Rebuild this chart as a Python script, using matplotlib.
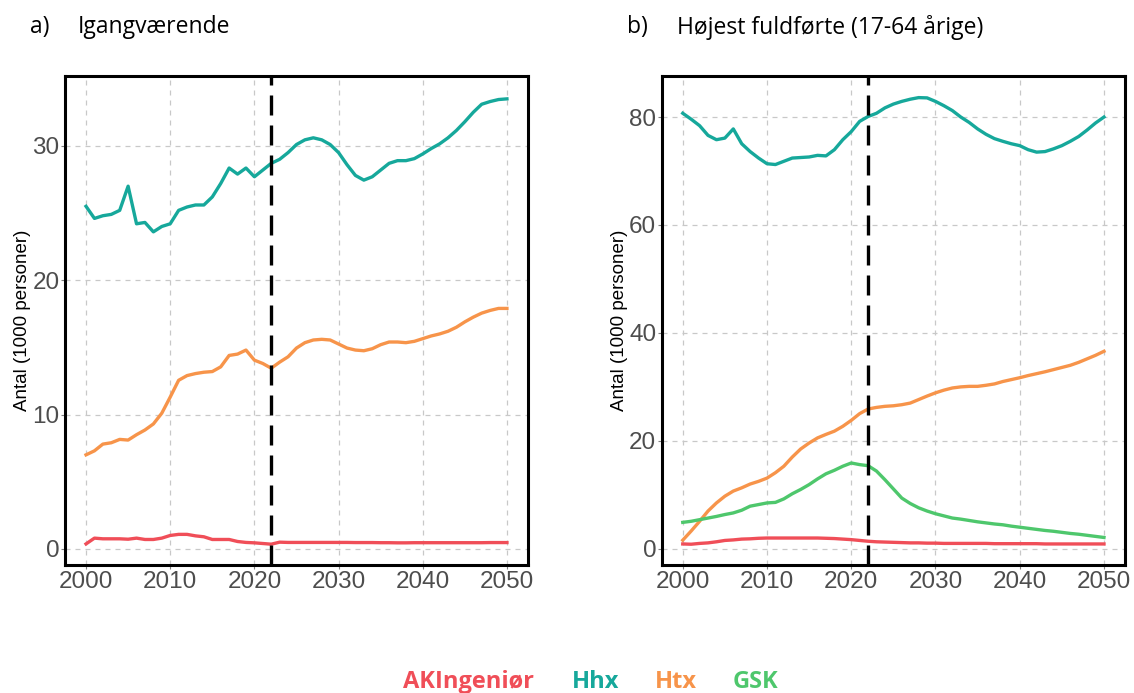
import numpy as np
import matplotlib
matplotlib.use("Agg")
from matplotlib import pyplot as plt

plt.rcParams['font.family'] = ['Liberation Sans', 'DejaVu Sans']

years = np.arange(2000, 2051)

# a) Igangværende
a_hhx = [25.5, 24.6, 24.8, 24.9, 25.2, 27.0, 24.2, 24.3, 23.6, 24.0,
         24.2, 25.2, 25.45, 25.6, 25.6, 26.2, 27.2, 28.35, 27.9, 28.35,
         27.7, 28.2, 28.7, 29.0, 29.5, 30.1, 30.45, 30.6, 30.45, 30.1,
         29.5, 28.6, 27.8, 27.45, 27.7, 28.2, 28.7, 28.9, 28.9, 29.05,
         29.4, 29.8, 30.15, 30.6, 31.15, 31.8, 32.5, 33.1, 33.3, 33.45, 33.5]
a_htx = [7.0, 7.3, 7.8, 7.9, 8.15, 8.1, 8.5, 8.85, 9.3, 10.1,
         11.3, 12.55, 12.9, 13.05, 13.15, 13.2, 13.55, 14.4, 14.5, 14.8,
         14.05, 13.8, 13.45, 13.9, 14.3, 14.95, 15.35, 15.55, 15.6, 15.55,
         15.25, 14.95, 14.8, 14.75, 14.9, 15.2, 15.4, 15.4, 15.35, 15.45,
         15.65, 15.85, 16.0, 16.2, 16.5, 16.9, 17.25, 17.55, 17.75, 17.9, 17.9]
a_ak = [0.37, 0.8, 0.75, 0.75, 0.75, 0.72, 0.8, 0.7, 0.7, 0.8,
        1.0, 1.08, 1.08, 0.97, 0.9, 0.7, 0.7, 0.7, 0.55, 0.48,
        0.45, 0.4, 0.35, 0.5, 0.48, 0.48, 0.48, 0.48, 0.48, 0.48,
        0.48, 0.48, 0.47, 0.47, 0.47, 0.46, 0.46, 0.45, 0.45, 0.46,
        0.46, 0.46, 0.46, 0.46, 0.46, 0.46, 0.46, 0.46, 0.47, 0.47, 0.47]

# b) Højest fuldførte
b_hhx = [80.7, 79.6, 78.4, 76.6, 75.8, 76.1, 77.8, 75.05, 73.6, 72.4,
         71.35, 71.2, 71.8, 72.4, 72.5, 72.6, 72.9, 72.8, 73.95, 75.8,
         77.3, 79.2, 80.1, 80.7, 81.7, 82.4, 82.9, 83.3, 83.6, 83.55,
         82.9, 82.1, 81.2, 80.0, 79.0, 77.8, 76.8, 76.0, 75.5, 75.05,
         74.7, 73.95, 73.5, 73.6, 74.1, 74.7, 75.5, 76.4, 77.6, 78.9, 80.0]
b_htx = [1.6, 3.3, 5.1, 7.0, 8.5, 9.75, 10.7, 11.3, 12.0, 12.5,
         13.1, 14.1, 15.3, 17.0, 18.5, 19.6, 20.55, 21.2, 21.8, 22.7,
         23.8, 25.05, 25.9, 26.2, 26.4, 26.5, 26.7, 27.0, 27.65, 28.3,
         28.9, 29.4, 29.8, 30.0, 30.1, 30.1, 30.3, 30.55, 31.0, 31.35,
         31.7, 32.1, 32.45, 32.8, 33.2, 33.6, 34.0, 34.55, 35.2, 35.85, 36.6]
b_gsk = [4.9, 5.1, 5.4, 5.7, 6.0, 6.35, 6.65, 7.15, 7.9, 8.2,
         8.5, 8.6, 9.25, 10.2, 11.0, 11.9, 12.95, 13.9, 14.55, 15.3,
         15.9, 15.6, 15.4, 14.4, 12.8, 11.1, 9.4, 8.4, 7.6, 7.0,
         6.5, 6.1, 5.7, 5.5, 5.25, 5.0, 4.8, 4.6, 4.45, 4.2,
         4.0, 3.8, 3.6, 3.4, 3.25, 3.05, 2.85, 2.7, 2.5, 2.3, 2.1]
b_ak = [0.9, 0.85, 1.0, 1.1, 1.3, 1.55, 1.65, 1.8, 1.85, 1.95,
        2.0, 2.0, 2.0, 2.0, 2.0, 2.0, 2.0, 1.95, 1.9, 1.8,
        1.7, 1.55, 1.4, 1.3, 1.25, 1.2, 1.15, 1.1, 1.1, 1.05,
        1.05, 1.0, 1.0, 1.0, 1.0, 1.0, 1.0, 0.95, 0.95, 0.95,
        0.95, 0.95, 0.95, 0.9, 0.9, 0.9, 0.9, 0.9, 0.9, 0.9, 0.9]

legend_labels = ["AKIngeniør", "Hhx", "Htx", "GSK"]
colors = {"AKIngeniør": "#f04e58", "Hhx": "#16a89b", "Htx": "#f7944a", "GSK": "#4ec76c"}

fig = plt.figure(figsize=(11.34, 6.93), dpi=100)
ax1 = fig.add_axes([0.0573, 0.1847, 0.4083, 0.7056])
ax2 = fig.add_axes([0.5835, 0.1847, 0.4086, 0.7056])


def style(ax, ylim, yticks):
    ax.set_xlim(1997.5, 2052.5)
    ax.set_ylim(*ylim)
    ax.set_xticks([2000, 2010, 2020, 2030, 2040, 2050])
    ax.set_yticks(yticks)
    ax.grid(True, linestyle=(0, (4, 4)), color="#c8c8c8", linewidth=0.9)
    ax.set_axisbelow(True)
    for s in ax.spines.values():
        s.set_linewidth(2.2)
        s.set_color("black")
    ax.tick_params(axis="both", labelsize=17.5, labelcolor="#4d4d4d",
                   color="#7f7f7f", length=3, width=0.8, pad=1)
    ax.set_ylabel("Antal (1000 personer)", fontsize=13.5, labelpad=1)
    ax.axvline(2022, color="black", linestyle=(0, (6, 3)), linewidth=2.4, zorder=5)


ax1.plot(years, a_hhx, color=colors["Hhx"], lw=2.4)
ax1.plot(years, a_htx, color=colors["Htx"], lw=2.4)
ax1.plot(years, a_ak, color=colors["AKIngeniør"], lw=2.4)
style(ax1, (-1.2, 35.2), [0, 10, 20, 30])

ax2.plot(years, b_hhx, color=colors["Hhx"], lw=2.4)
ax2.plot(years, b_htx, color=colors["Htx"], lw=2.4)
ax2.plot(years, b_gsk, color=colors["GSK"], lw=2.4)
ax2.plot(years, b_ak, color=colors["AKIngeniør"], lw=2.4)
style(ax2, (-3.0, 87.6), [0, 20, 40, 60, 80])

tfont = dict(fontsize=16.5, family="Open Sans", va="center", color="black")
fig.text(30 / 1134, 1 - 27 / 693, "a)", **tfont)
fig.text(78 / 1134, 1 - 27 / 693, "Igangværende", **tfont)
fig.text(627 / 1134, 1 - 27 / 693, "b)", **tfont)
fig.text(677 / 1134, 1 - 27 / 693, "Højest fuldførte (17-64 årige)", **tfont)

leg_x = [403, 572, 655, 733]
for lab, x in zip(legend_labels, leg_x):
    fig.text(x / 1134, 1 - 682 / 693, lab, color=colors[lab], fontsize=17,
             fontweight="bold", family="Open Sans", va="center")

fig.savefig("out.png", dpi=100)
